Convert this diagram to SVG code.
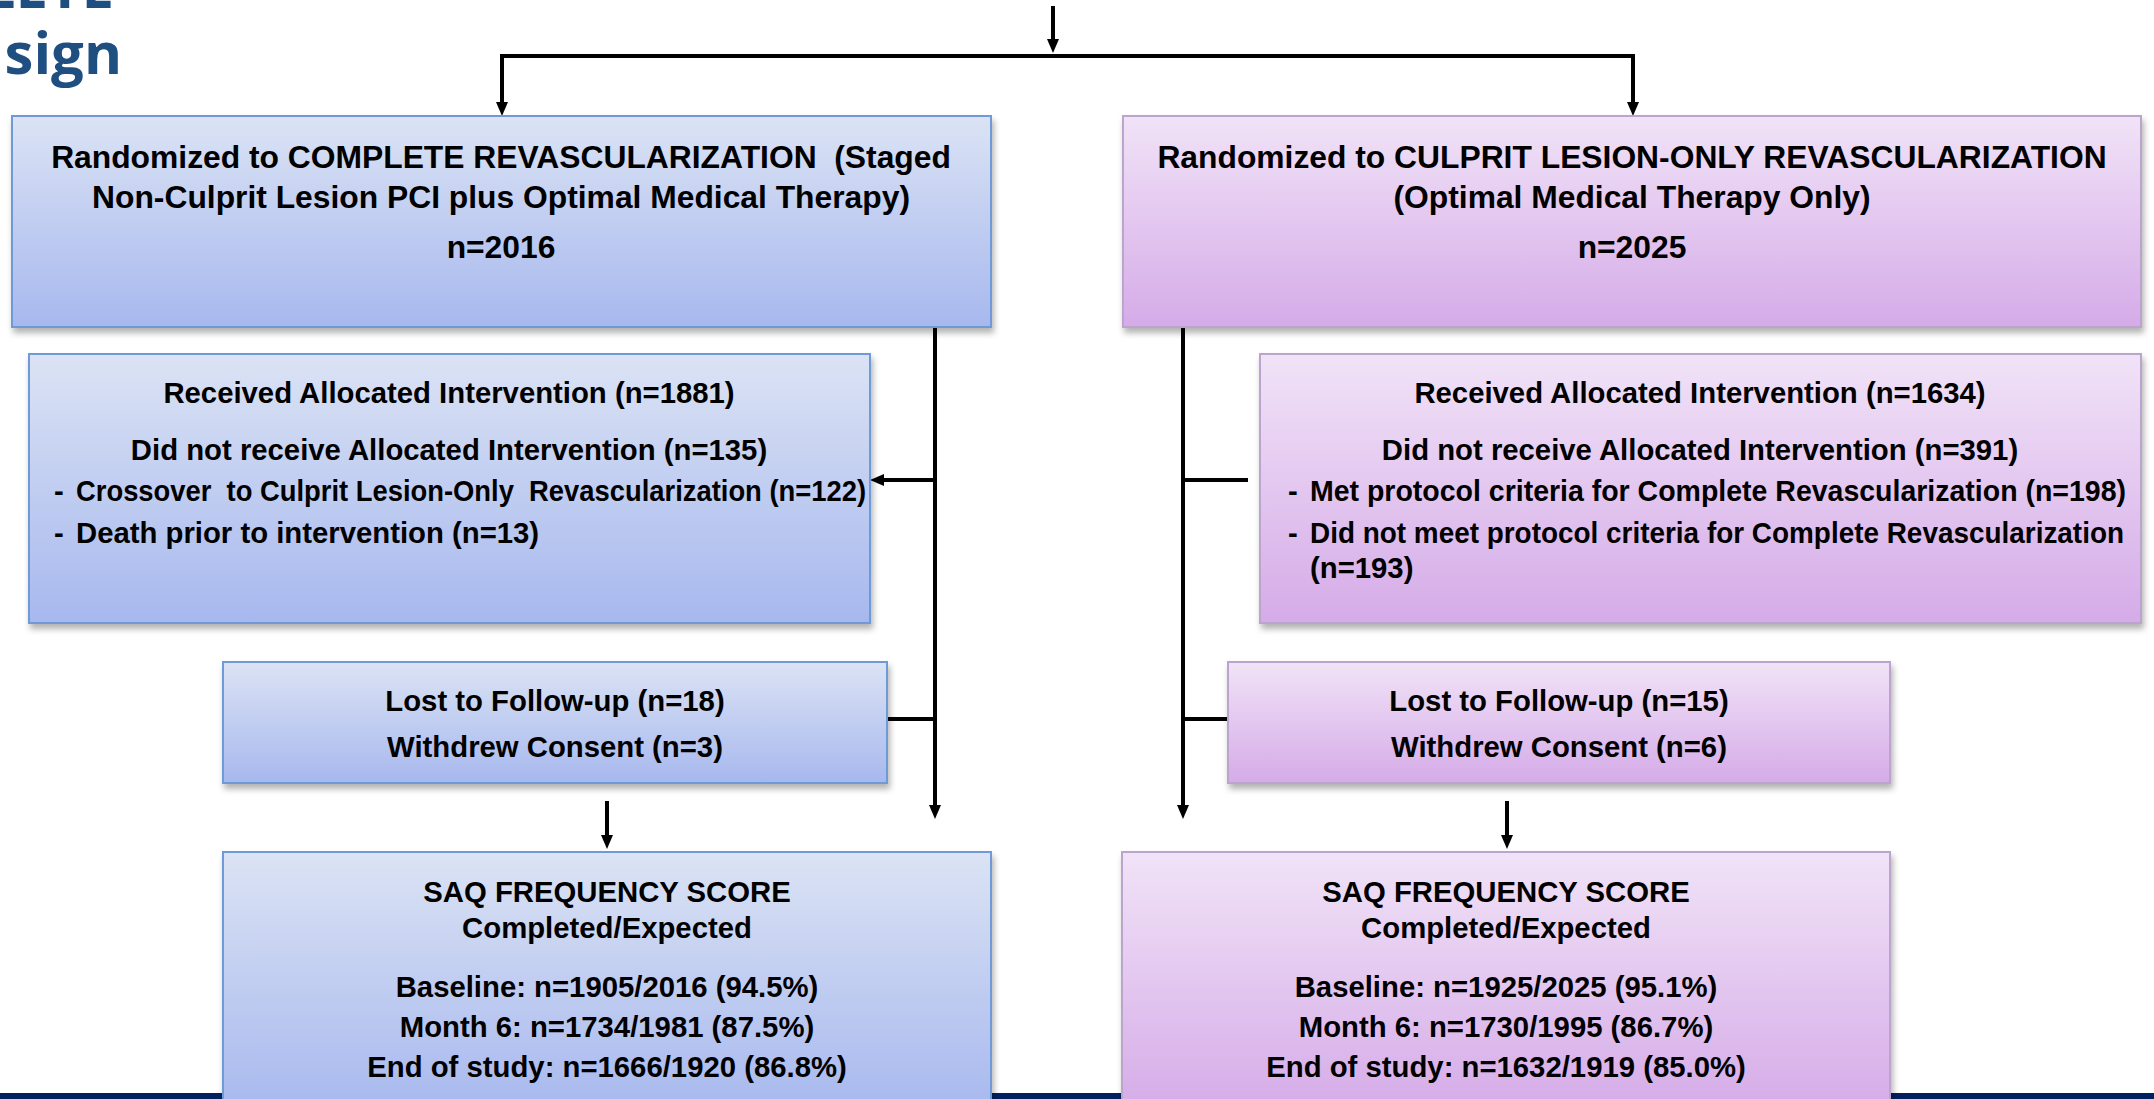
<svg xmlns="http://www.w3.org/2000/svg" width="2154" height="1099" viewBox="0 0 2154 1099">
<style>
  .t { font-family: "Liberation Sans", Arial, sans-serif; font-weight: bold; fill: #000; }
  .h { font-size: 31.8px; text-anchor: middle; }
  .s { font-size: 29.3px; }
  .c { text-anchor: middle; }
  .blue { fill: url(#gBlue); stroke: #6e9ad8; stroke-width: 2; filter: url(#sh); }
  .purp { fill: url(#gPurp); stroke: #bba5cf; stroke-width: 2; filter: url(#sh); }
  .title { font-family: "Open Sans", "Liberation Sans", sans-serif; font-weight: bold; font-size: 58px; fill: #1f4e80; text-anchor: end; }
  .ln { stroke: #000; stroke-width: 4; fill: none; }
</style>
<defs>
  <linearGradient id="gBlue" x1="0" y1="0" x2="0" y2="1">
    <stop offset="0" stop-color="#dbe3f4"/>
    <stop offset="1" stop-color="#a7b8ee"/>
  </linearGradient>
  <linearGradient id="gPurp" x1="0" y1="0" x2="0" y2="1">
    <stop offset="0" stop-color="#f1e3f7"/>
    <stop offset="1" stop-color="#d5abe8"/>
  </linearGradient>
  <filter id="sh" x="-5%" y="-5%" width="110%" height="120%">
    <feDropShadow dx="2" dy="5" stdDeviation="3" flood-color="#000" flood-opacity="0.3"/>
  </filter>
  <marker id="arr" viewBox="0 0 14 12" refX="8" refY="6" markerWidth="14" markerHeight="12" markerUnits="userSpaceOnUse" orient="auto">
    <path d="M0,0 L14,6 L0,12 z" fill="#000"/>
  </marker>
</defs>

<rect x="0" y="1093" width="2154" height="6" fill="#002060"/>

<text class="title" x="114" y="8">LETE</text>
<text class="title" x="122" y="74">sign</text>

<g id="connectors">
  <line class="ln" x1="1053" y1="6" x2="1053" y2="47" marker-end="url(#arr)"/>
  <polyline class="ln" points="502,110 502,56 1633,56 1633,110"/>
  <line class="ln" x1="502" y1="58" x2="502" y2="110" marker-end="url(#arr)"/>
  <line class="ln" x1="1633" y1="58" x2="1633" y2="110" marker-end="url(#arr)"/>
  <line class="ln" x1="935" y1="327" x2="935" y2="813" marker-end="url(#arr)"/>
  <line class="ln" x1="935" y1="480" x2="876" y2="480" marker-end="url(#arr)"/>
  <line class="ln" x1="887" y1="719" x2="935" y2="719"/>
  <line class="ln" x1="607" y1="801" x2="607" y2="843" marker-end="url(#arr)"/>
  <line class="ln" x1="1183" y1="327" x2="1183" y2="813" marker-end="url(#arr)"/>
  <line class="ln" x1="1183" y1="480" x2="1248" y2="480"/>
  <line class="ln" x1="1183" y1="719" x2="1228" y2="719"/>
  <line class="ln" x1="1507" y1="801" x2="1507" y2="843" marker-end="url(#arr)"/>
</g>

<g id="complete-rand">
  <rect class="blue" x="12" y="116" width="979" height="211"/>
  <text class="t h" x="501" y="168" xml:space="preserve">Randomized to COMPLETE REVASCULARIZATION  (Staged</text>
  <text class="t h" x="501" y="208">Non-Culprit Lesion PCI plus Optimal Medical Therapy)</text>
  <text class="t h" x="501" y="258">n=2016</text>
</g>

<g id="culprit-rand">
  <rect class="purp" x="1123" y="116" width="1018" height="211"/>
  <text class="t h" x="1632" y="168">Randomized to CULPRIT LESION-ONLY REVASCULARIZATION</text>
  <text class="t h" x="1632" y="208">(Optimal Medical Therapy Only)</text>
  <text class="t h" x="1632" y="258">n=2025</text>
</g>

<g id="complete-alloc">
  <rect class="blue" x="29" y="354" width="841" height="269"/>
  <text class="t s c" x="449" y="403">Received Allocated Intervention (n=1881)</text>
  <text class="t s c" x="449" y="460">Did not receive Allocated Intervention (n=135)</text>
  <text class="t s" x="54" y="501">-</text>
  <text class="t s" x="76" y="501" textLength="790" lengthAdjust="spacingAndGlyphs" xml:space="preserve">Crossover  to Culprit Lesion-Only  Revascularization (n=122)</text>
  <text class="t s" x="54" y="543">-</text>
  <text class="t s" x="76" y="543">Death prior to intervention (n=13)</text>
</g>

<g id="culprit-alloc">
  <rect class="purp" x="1260" y="354" width="881" height="269"/>
  <text class="t s c" x="1700" y="403">Received Allocated Intervention (n=1634)</text>
  <text class="t s c" x="1700" y="460">Did not receive Allocated Intervention (n=391)</text>
  <text class="t s" x="1288" y="501">-</text>
  <text class="t s" x="1310" y="501" textLength="816" lengthAdjust="spacingAndGlyphs">Met protocol criteria for Complete Revascularization (n=198)</text>
  <text class="t s" x="1288" y="543">-</text>
  <text class="t s" x="1310" y="543" textLength="814" lengthAdjust="spacingAndGlyphs">Did not meet protocol criteria for Complete Revascularization</text>
  <text class="t s" x="1310" y="578">(n=193)</text>
</g>

<g id="complete-lost">
  <rect class="blue" x="223" y="662" width="664" height="121"/>
  <text class="t s c" x="555" y="711">Lost to Follow-up (n=18)</text>
  <text class="t s c" x="555" y="757">Withdrew Consent (n=3)</text>
</g>

<g id="culprit-lost">
  <rect class="purp" x="1228" y="662" width="662" height="121"/>
  <text class="t s c" x="1559" y="711">Lost to Follow-up (n=15)</text>
  <text class="t s c" x="1559" y="757">Withdrew Consent (n=6)</text>
</g>

<g id="complete-saq">
  <rect class="blue" x="223" y="852" width="768" height="260"/>
  <text class="t s c" x="607" y="902">SAQ FREQUENCY SCORE</text>
  <text class="t s c" x="607" y="938">Completed/Expected</text>
  <text class="t s c" x="607" y="997">Baseline: n=1905/2016 (94.5%)</text>
  <text class="t s c" x="607" y="1037">Month 6: n=1734/1981 (87.5%)</text>
  <text class="t s c" x="607" y="1077">End of study: n=1666/1920 (86.8%)</text>
</g>

<g id="culprit-saq">
  <rect class="purp" x="1122" y="852" width="768" height="260"/>
  <text class="t s c" x="1506" y="902">SAQ FREQUENCY SCORE</text>
  <text class="t s c" x="1506" y="938">Completed/Expected</text>
  <text class="t s c" x="1506" y="997">Baseline: n=1925/2025 (95.1%)</text>
  <text class="t s c" x="1506" y="1037">Month 6: n=1730/1995 (86.7%)</text>
  <text class="t s c" x="1506" y="1077">End of study: n=1632/1919 (85.0%)</text>
</g>
</svg>
